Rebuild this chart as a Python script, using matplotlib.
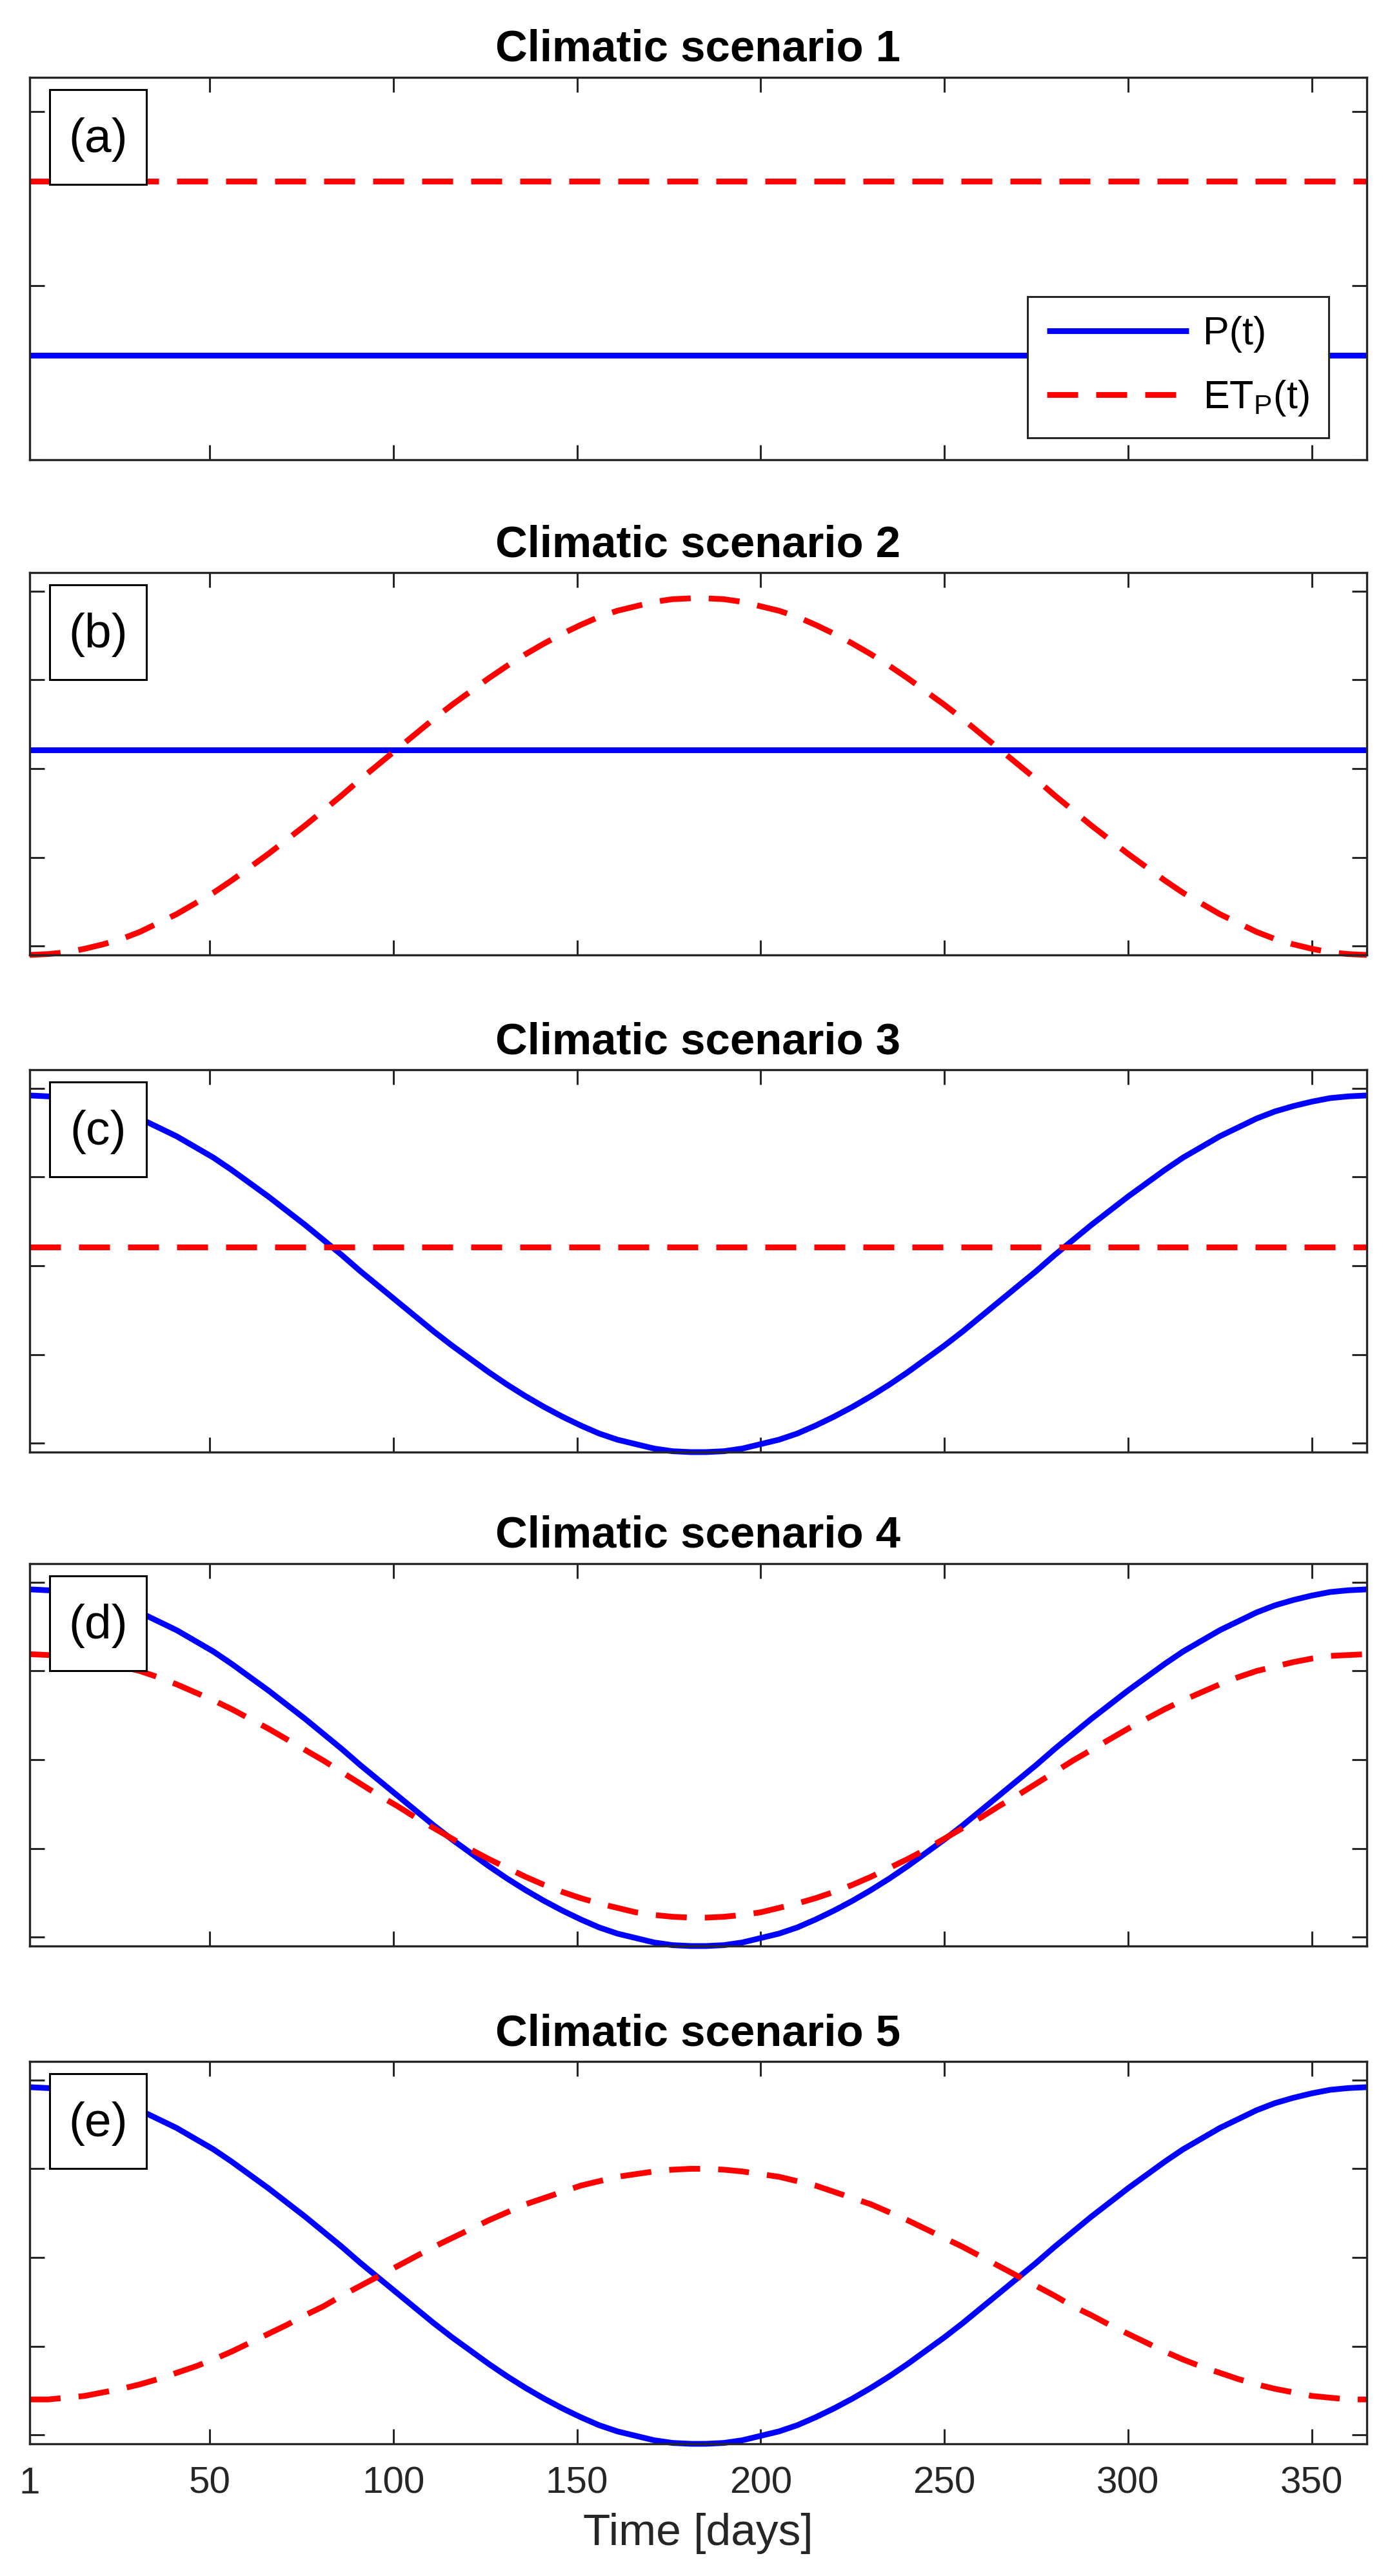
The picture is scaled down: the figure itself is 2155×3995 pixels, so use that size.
import matplotlib
matplotlib.use('Agg')
import matplotlib.pyplot as plt
from matplotlib.patches import Rectangle
import numpy as np

# Fonte parecida com a do MATLAB
plt.rcParams['font.family'] = ['Liberation Sans', 'DejaVu Sans']
plt.rcParams['mathtext.fontset'] = 'custom'
plt.rcParams['mathtext.rm'] = 'Liberation Sans'

# dias amostrados (o ciclo anual)
days = [1, 6, 11, 16, 21, 26, 31, 36, 41, 46, 51, 56, 61, 66, 71, 76, 81, 86, 91, 96,
        101, 106, 111, 116, 121, 126, 131, 136, 141, 146, 151, 156, 161, 166, 171, 176, 181,
        183,
        185, 190, 195, 200, 205, 210, 215, 220, 225, 230, 235, 240, 245, 250, 255, 260,
        265, 270, 275, 280, 285, 290, 295, 300, 305, 310, 315, 320, 325, 330, 335, 340,
        345, 350, 355, 360, 365]

# P(t) sazonal (cenarios 3, 4 e 5)
p_seasonal = [4.92, 4.91, 4.89, 4.85, 4.80, 4.74, 4.66, 4.56, 4.46, 4.34, 4.22, 4.08,
              3.93, 3.78, 3.62, 3.46, 3.29, 3.12, 2.94, 2.77, 2.60, 2.43, 2.26, 2.10,
              1.95, 1.80, 1.66, 1.53, 1.41, 1.30, 1.20, 1.11, 1.04, 0.99, 0.94, 0.91, 0.90,
              0.90,
              0.90, 0.91, 0.94, 0.99, 1.04, 1.11, 1.20, 1.30, 1.41, 1.53, 1.66, 1.80,
              1.95, 2.10, 2.26, 2.43, 2.60, 2.77, 2.94, 3.12, 3.29, 3.46, 3.62, 3.78,
              3.93, 4.08, 4.22, 4.34, 4.46, 4.56, 4.66, 4.74, 4.80, 4.85, 4.89, 4.91, 4.92]

# ETp(t) do cenario 2
et_scen2 = [0.90, 0.91, 0.93, 0.97, 1.02, 1.08, 1.16, 1.26, 1.36, 1.48, 1.60, 1.74,
            1.89, 2.04, 2.20, 2.36, 2.53, 2.70, 2.88, 3.05, 3.22, 3.39, 3.56, 3.72,
            3.87, 4.02, 4.16, 4.29, 4.41, 4.52, 4.62, 4.71, 4.78, 4.83, 4.88, 4.91, 4.92,
            4.92,
            4.92, 4.91, 4.88, 4.83, 4.78, 4.71, 4.62, 4.52, 4.41, 4.29, 4.16, 4.02,
            3.87, 3.72, 3.56, 3.39, 3.22, 3.05, 2.88, 2.70, 2.53, 2.36, 2.20, 2.04,
            1.89, 1.74, 1.60, 1.48, 1.36, 1.26, 1.16, 1.08, 1.02, 0.97, 0.93, 0.91, 0.90]

# ETp(t) do cenario 4 (em fase com P)
et_scen4 = [4.19, 4.18, 4.17, 4.14, 4.10, 4.05, 4.00, 3.93, 3.85, 3.76, 3.67, 3.57,
            3.46, 3.35, 3.23, 3.11, 2.99, 2.86, 2.73, 2.60, 2.48, 2.35, 2.23, 2.11,
            1.99, 1.88, 1.78, 1.68, 1.59, 1.51, 1.44, 1.38, 1.33, 1.28, 1.25, 1.23, 1.22,
            1.22,
            1.22, 1.23, 1.25, 1.28, 1.33, 1.38, 1.44, 1.51, 1.59, 1.68, 1.78, 1.88,
            1.99, 2.11, 2.23, 2.35, 2.48, 2.60, 2.73, 2.86, 2.99, 3.11, 3.23, 3.35,
            3.46, 3.57, 3.67, 3.76, 3.85, 3.93, 4.00, 4.05, 4.10, 4.14, 4.17, 4.18, 4.19]

# ETp(t) do cenario 5 (fora de fase)
et_scen5 = [1.40, 1.40, 1.42, 1.44, 1.48, 1.52, 1.57, 1.63, 1.70, 1.77, 1.85, 1.94,
            2.04, 2.14, 2.24, 2.35, 2.45, 2.57, 2.68, 2.79, 2.90, 3.01, 3.12, 3.22,
            3.32, 3.42, 3.51, 3.60, 3.67, 3.74, 3.81, 3.86, 3.91, 3.94, 3.97, 3.99, 4.00,
            4.00,
            4.00, 3.99, 3.97, 3.94, 3.91, 3.86, 3.81, 3.74, 3.67, 3.60, 3.51, 3.42,
            3.32, 3.22, 3.12, 3.01, 2.90, 2.79, 2.68, 2.57, 2.45, 2.35, 2.24, 2.14,
            2.04, 1.94, 1.85, 1.77, 1.70, 1.63, 1.57, 1.52, 1.48, 1.44, 1.42, 1.40, 1.40]

# valores constantes
p_const1 = 1.2
et_const1 = 3.2
p_const2 = 3.21
et_const3 = 3.21

const = lambda v: np.full(len(days), v)

series_p = [const(p_const1), const(p_const2), p_seasonal, p_seasonal, p_seasonal]
series_et = [const(et_const1), et_scen2, const(et_const3), et_scen4, et_scen5]
panel_labels = ['(a)', '(b)', '(c)', '(d)', '(e)']
titles = ['Climatic scenario %d' % (i + 1) for i in range(5)]
xticks = [1, 50, 100, 150, 200, 250, 300, 350]

axcol = '#262626'

fig = plt.figure(figsize=(10.775, 19.975), dpi=200)

W, H = 2155.0, 3995.0
left = 46 / W
width = 2073 / W
height = 593 / H
bottoms_px = [713, 1481, 2252, 3018, 3790]

for i in range(5):
    ax = fig.add_axes([left, 1 - bottoms_px[i] / H, width, height])

    ax.plot(days, series_p[i], color='#0000FF', lw=3.2, solid_capstyle='butt',
            solid_joinstyle='round', clip_on=False, label='P(t)')
    ax.plot(days, series_et[i], color='#FF0000', lw=3.2, linestyle=(0, (5.4, 3.15)),
            clip_on=False, label=r'ET$_\mathregular{P}$(t)')

    ax.set_xlim(1, 365)
    ax.set_xticks(xticks)
    if i == 0:
        ax.set_ylim(0, 4.39)
        ax.set_yticks([0, 2, 4])
    else:
        ax.set_ylim(0.9, 5.21)
        ax.set_yticks([1, 2, 3, 4, 5])
    ax.set_yticklabels([])

    ax.tick_params(direction='in', length=8.3, width=1.1, top=True, right=True,
                   color=axcol, labelcolor=axcol, labelsize=21, pad=12.5)
    for sp in ax.spines.values():
        sp.set_linewidth(1.2)
        sp.set_color(axcol)

    if i < 4:
        ax.set_xticklabels([])
    else:
        ax.set_xlabel('Time [days]', fontsize=25, labelpad=6.5, color=axcol)

    ax.set_title(titles[i], fontsize=24.8, fontweight='bold', pad=9)

    # caixinha com a letra do painel
    ax.add_patch(Rectangle((0.015, 0.72), 0.0725, 0.248, transform=ax.transAxes,
                           fc='white', ec='black', lw=1.1, zorder=5, clip_on=False))
    ax.text(0.0512, 0.838, panel_labels[i], transform=ax.transAxes, fontsize=27,
            ha='center', va='center', zorder=6)

    if i == 0:
        leg = ax.legend(loc='lower right', bbox_to_anchor=(0.9715, 0.0573),
                        borderaxespad=0, fancybox=False, edgecolor=axcol, framealpha=1,
                        fontsize=22, handlelength=3.6, handletextpad=0.35,
                        borderpad=0.5, labelspacing=0.66)
        leg.get_frame().set_linewidth(1.1)

fig.savefig('out.png', dpi=200)
